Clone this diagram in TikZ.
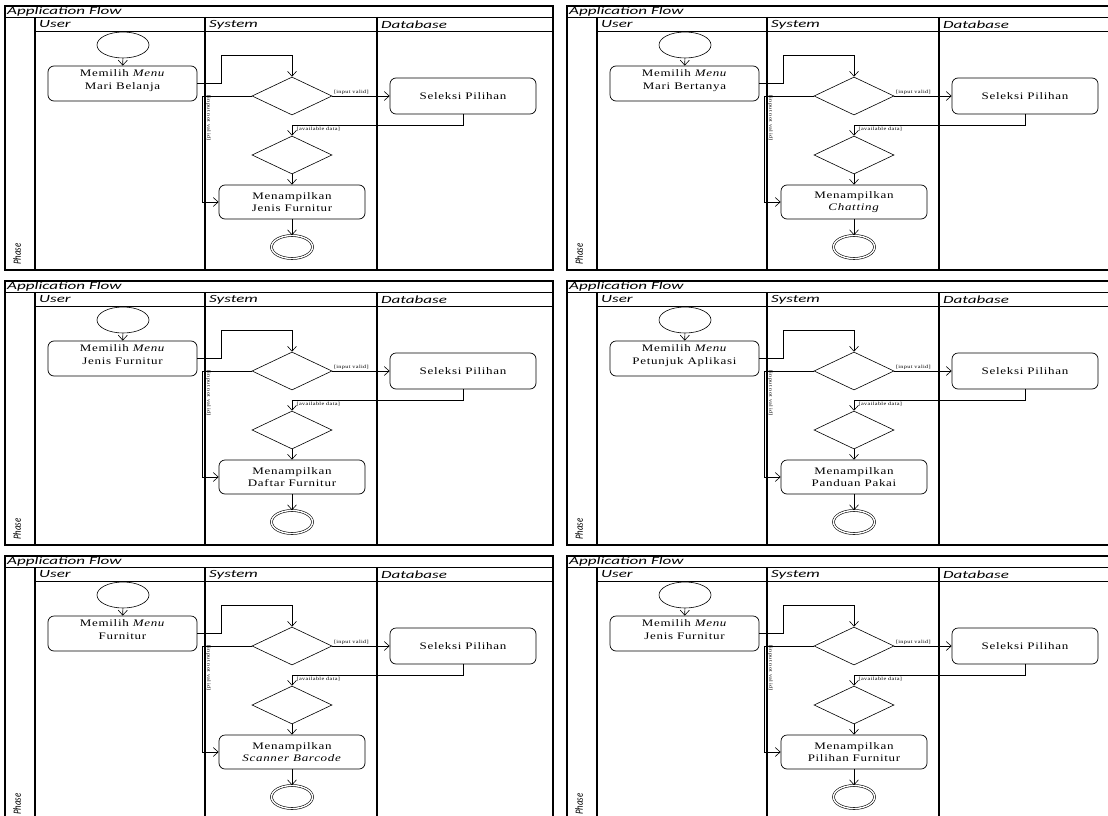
\documentclass[tikz,border=0pt]{standalone}
\usepackage{fontspec}
\setmainfont{Liberation Serif}
\newfontfamily\hdrfont[FakeStretch=1.55]{Carlito}
\newfontfamily\phasefont[FakeStretch=0.8]{Carlito}
\newfontfamily\boxfont[FakeStretch=1.3, LetterSpace=7]{Liberation Serif}
\usetikzlibrary{shapes.geometric,arrows.meta}
\tikzset{
 frame/.style={line width=1.1pt},
 thinframe/.style={line width=0.8pt},
 actbox/.style={draw, rounded corners=6pt, minimum width=146pt, minimum height=35pt, align=center, font=\boxfont\fontsize{10}{12.5}\selectfont, line width=0.7pt, inner sep=1pt},
 decision/.style={draw, diamond, minimum width=80pt, minimum height=38pt, inner sep=0pt, line width=0.6pt},
 startnode/.style={draw, ellipse, minimum width=52pt, minimum height=26pt, inner sep=0pt, line width=0.6pt},
 endnode/.style={draw, ellipse, double, double distance=1.4pt, minimum width=41pt, minimum height=23pt, inner sep=0pt, line width=0.6pt},
 flow/.style={-{Straight Barb[length=5pt,width=9pt]}, line width=0.6pt},
 hdr/.style={font=\hdrfont\itshape\fontsize{11}{11}\selectfont, anchor=west, inner sep=0pt},
 guard/.style={font=\boxfont\fontsize{4.8}{5}\selectfont, inner sep=0.5pt},
}
\newcommand\actpanel[5]{%
\begin{scope}[shift={(#1,#2)}]
 \draw[frame] (0,0) rectangle (548,264);
 \draw[thinframe] (0,11) -- (548,11);
 \draw[thinframe] (30,25) -- (548,25);
 \draw[frame] (30,11) -- (30,264);
 \draw[frame] (200,11) -- (200,264);
 \draw[frame] (372,11) -- (372,264);
 \node[hdr] (#3title) at (2,5.8) {Application Flow};
 \node[hdr] (#3user) at (34,18.5) {User};
 \node[hdr] (#3sys) at (204,18.5) {System};
 \node[hdr] (#3db) at (376,18.5) {Database};
 \node[font=\phasefont\itshape\fontsize{11}{11}\selectfont, rotate=90, inner sep=0pt] (#3phase) at (12,248) {Phase};
 \node[startnode] (#3start) at (118,39) {};
 \node[actbox, minimum width=149pt] (#3pick) at (117.5,77.5) {Memilih \textit{Menu}\\#4\\[-5pt]};
 \node[decision] (#3dA) at (287,90) {};
 \node[actbox, minimum height=36pt] (#3sel) at (458,90) {Seleksi Pilihan};
 \node[decision] (#3dB) at (287,149) {};
 \node[actbox, minimum height=34pt] (#3show) at (287,196) {Menampilkan\\#5};
 \node[endnode] (#3end) at (287,241) {};
 \coordinate (#3bA) at (216,49);
 \coordinate (#3bB) at (287,119);
 \coordinate (#3bC) at (197,90);
 \draw[flow] (#3start) -- (#3pick);
 \draw[flow] (#3pick.east) -| (#3bA) -| (#3dA.north);
 \draw[flow] (#3dA.east) -- (#3sel.west);
 \node[guard, anchor=south west] (#3valid) at ([shift={(1,-1)}]#3dA.east) {[input valid]};
 \draw[flow] (#3sel.south) |- (#3bB) -- (#3dB.north);
 \node[guard, anchor=north west] (#3avail) at ([shift={(4,1)}]#3bB) {[available data]};
 \draw[flow] (#3dB.south) -- (#3show.north);
 \draw[flow] (#3dA.west) -- (#3bC) |- (#3show.west);
 \node[guard, rotate=-90] (#3invalid) at (203.5,112) {[input not valid]};
 \draw[flow] (#3show.south) -- (#3end.north);
\end{scope}}
\begin{document}
\begin{tikzpicture}[x=1pt,y=-1pt]
\useasboundingbox (0,0) rectangle (1108,816);
\clip (0,0) rectangle (1108,816);
\fill[white] (0,0) rectangle (1108,816);
\actpanel{5}{6}{p1}{Mari Belanja}{Jenis Furnitur}
\actpanel{567}{6}{p2}{Mari Bertanya}{\textit{Chatting}}
\actpanel{5}{281}{p3}{Jenis Furnitur}{Daftar Furnitur}
\actpanel{567}{281}{p4}{Petunjuk Aplikasi}{Panduan Pakai}
\actpanel{5}{556}{p5}{Furnitur}{\textit{Scanner Barcode}}
\actpanel{567}{556}{p6}{Jenis Furnitur}{Pilihan Furnitur}
\end{tikzpicture}
\end{document}
